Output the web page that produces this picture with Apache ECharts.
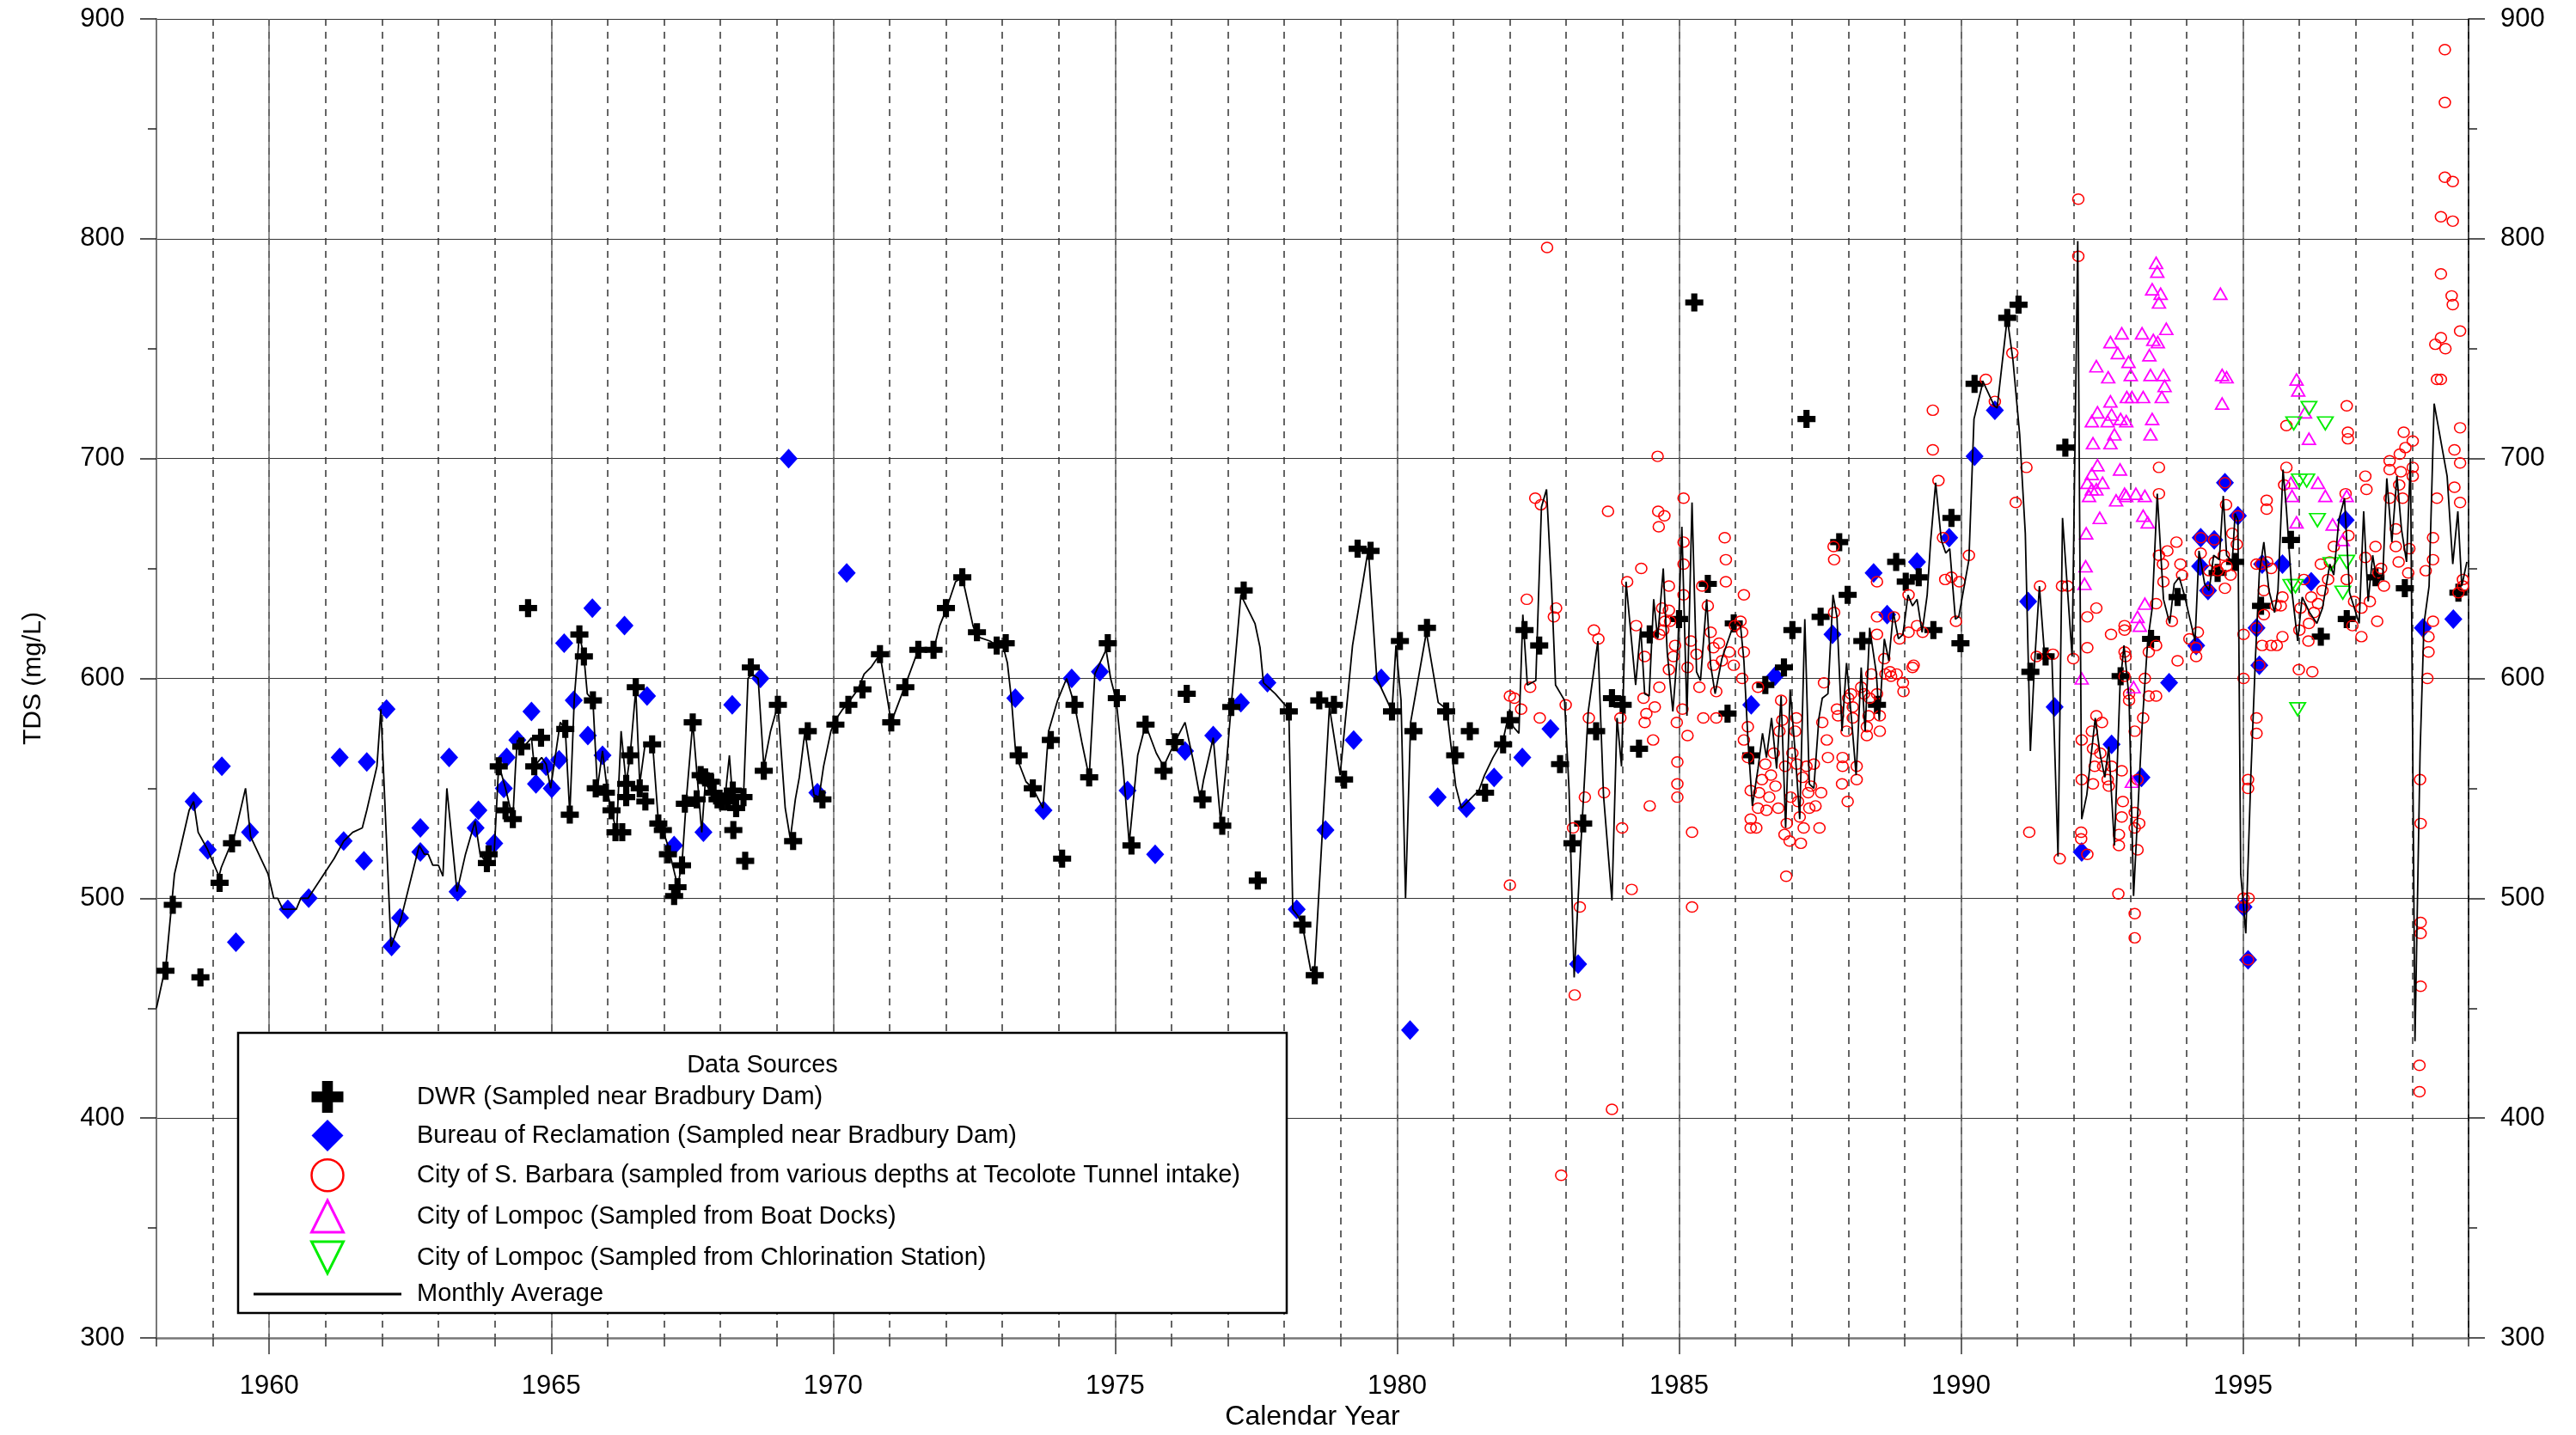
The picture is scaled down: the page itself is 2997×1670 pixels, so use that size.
<!DOCTYPE html>
<html><head><meta charset="utf-8">
<script src="https://cdn.jsdelivr.net/npm/echarts@6/dist/echarts.min.js"></script>
<style>html,body{margin:0;padding:0;background:#fff}#c{width:2997px;height:1670px}</style>
</head><body><div id="c"></div>
<script>
// ---------------- DATA ----------------
const xTickLabels = [1960, 1965, 1970, 1975, 1980, 1985, 1990, 1995];

const seriesNames = [
  'DWR (Sampled near Bradbury Dam)',
  'Bureau of Reclamation (Sampled near Bradbury Dam)',
  'City of S. Barbara (sampled from various depths at Tecolote Tunnel intake)',
  'City of Lompoc (Sampled from Boat Docks)',
  'City of Lompoc (Sampled from Chlorination Station)',
  'Monthly Average'
];

const dwr = [
[1958.16,467],[1958.29,497],[1958.78,464],[1959.12,507],[1959.34,525],
[1963.86,516],[1963.89,520],[1964.07,560],[1964.19,540],[1964.32,536],
[1964.47,569],[1964.59,632],[1964.70,560],[1964.82,573],[1965.25,577],[1965.33,538],[1965.50,620],[1965.58,610],[1965.74,590],[1965.79,550],[1965.97,548],[1966.07,540],[1966.14,530],[1966.26,530],[1966.33,546],[1966.33,552],[1966.40,565],[1966.50,596],[1966.57,550],[1966.67,544],[1966.79,570],[1966.90,534],[1966.98,531],[1967.07,520],[1967.18,501],[1967.24,505],[1967.32,515],[1967.37,543],[1967.51,580],[1967.58,545],[1967.65,556],[1967.73,555],[1967.83,553],[1967.88,548],[1967.95,545],[1968.03,544],[1968.13,544],[1968.22,549],[1968.28,541],[1968.23,531],[1968.41,546],[1968.44,517],[1968.54,605],[1968.77,558],[1969.02,588],[1969.29,526],[1969.55,576],[1969.81,545],[1970.04,579],[1970.27,588],[1970.52,595],
[1970.83,611],[1971.03,580],[1971.28,596],[1971.51,613],[1971.78,613],[1972.00,632],[1972.29,646],[1972.55,621],[1972.90,615],[1973.06,616],[1973.29,565],[1973.54,550],[1973.86,572],[1974.06,518],[1974.28,588],[1974.54,555],[1974.87,616],[1975.03,591],[1975.29,524],[1975.54,579],[1975.86,558],[1976.06,571],[1976.27,593],[1976.55,545],
[1976.90,533],[1977.06,587],[1977.28,640],[1977.53,508],[1978.08,585],[1978.32,488],[1978.54,465],[1978.62,590],[1978.88,588],[1979.06,554],[1979.30,659],[1979.53,658],[1979.91,585],[1980.05,617],[1980.29,576],[1980.53,623],[1980.87,585],[1981.03,565],[1981.29,576],[1981.56,548],[1981.88,570],[1982.0,581],
[1982.26,622],[1982.52,615],[1982.89,561],[1983.11,525],[1983.30,534],[1983.53,576],[1983.81,591],[1984.0,588],[1984.29,568],[1984.48,620],[1985.0,627],[1985.27,771],[1985.51,643],[1985.86,584],[1985.97,625],[1986.28,565],
[1986.53,597],[1986.86,605],[1987.01,622],[1987.26,718],[1987.51,628],[1987.84,662],[1987.99,638],[1988.25,617],[1988.51,588],[1988.85,653],[1989.02,644],[1989.25,646],[1989.51,622],[1989.83,673],[1989.99,616],[1990.24,734],
[1990.82,764],[1991.02,770],[1991.23,603],[1991.50,610],[1991.85,705],[1992.83,601],[1993.37,618],[1993.84,637],[1994.55,648],
[1994.86,653],[1995.32,633],[1995.85,663],[1996.38,619],[1996.84,627],[1997.35,646],[1997.87,641],[1998.82,639]
];

const bureau = [
[1958.66,544],[1958.91,522],[1959.16,560],[1959.41,480],[1959.66,530],[1960.33,495],[1960.70,500],[1961.25,564],[1961.32,526],[1961.73,562],[1961.68,517],[1962.08,586],[1962.17,478],[1962.32,491],[1962.68,532],[1962.68,521],[1963.19,564],[1963.34,503],[1963.71,540],[1963.66,532],[1963.99,525],[1964.21,564],[1964.16,550],[1964.40,572],
[1964.65,585],[1964.73,552],[1964.91,560],[1965.01,550],[1965.14,563],[1965.23,616],[1965.40,590],[1965.65,574],[1965.73,632],[1965.91,565],[1966.30,624],[1966.70,592],[1967.18,524],[1967.70,530],[1968.21,588],[1968.71,600],[1969.21,700],[1969.72,548],[1970.24,648],
[1973.23,591],[1973.73,540],[1974.23,600],[1974.73,603],[1975.22,549],[1975.71,520],[1976.24,567],
[1976.74,574],[1977.23,589],[1977.70,598],[1978.22,495],[1978.73,531],[1979.23,572],[1979.72,600],[1980.23,440],[1980.72,546],[1981.23,541],[1981.72,555],
[1982.22,564],[1982.72,577],[1983.21,470],[1986.28,588],
[1986.70,601],[1987.72,620],[1988.45,648],[1988.69,629],[1989.22,653],[1989.79,664],[1990.24,701],[1990.6,722],
[1991.19,635],[1991.66,587],[1992.14,521],[1992.67,570],[1993.2,555],[1993.69,598],[1994.17,615],[1994.25,664],[1994.24,651],[1994.49,663],[1994.68,689],[1994.38,640],
[1994.91,674],[1995.01,496],[1995.09,472],[1995.24,623],[1995.29,606],[1995.34,652],[1995.70,652],[1996.21,644],[1996.82,672],[1998.19,623],[1998.73,627]
];

const sbarbara = [
[1982.0,592],[1982.0,506],
[1982.08,591],[1982.66,796],[1982.45,682],[1982.55,679],[1982.30,636],[1982.82,632],[1982.78,628],[1982.36,596],[1982.20,586],[1982.53,582],[1982.99,588],[1983.12,532],[1983.24,496],[1983.15,456],[1982.91,374],[1983.33,546],[1983.40,582],[1983.49,622],[1983.57,618],[1983.67,548],[1983.74,676],[1983.81,404],[1983.99,532],[1983.96,582],[1984.08,644],[1984.16,504],[1984.24,624],[1984.33,650],[1984.39,610],[1984.37,591],[1984.42,584],[1984.39,580],[1984.54,572],[1984.48,542],[1984.57,587],[1984.62,701],[1984.63,676],[1984.64,669],[1984.74,674],[1984.65,596],[1984.70,632],[1984.82,631],[1984.82,642],[1984.84,626],[1984.90,610],[1984.93,615],[1984.82,604],[1984.96,580],[1984.97,562],[1984.97,552],[1984.97,546],[1985.08,682],[1985.08,662],[1985.08,652],[1985.08,638],[1985.06,586],[1985.15,574],[1985.23,530],[1985.23,496],[1985.15,605],[1985.21,617],[1985.31,611],[1985.41,642],[1985.51,633],[1985.56,621],[1985.61,614],[1985.61,606],[1985.71,616],[1985.76,608],[1985.66,594],[1985.36,596],[1985.43,582],[1985.66,582],[1985.81,664],[1985.83,654],[1985.83,644],[1985.89,612],[1985.97,606],[1985.99,624],[1986.09,626],[1986.15,638],[1986.12,621],[1986.15,612],[1986.12,600],[1986.15,572],[1986.22,578],[1986.22,564],[1986.27,549],[1986.27,536],[1986.27,532],[1984.72,622],[1984.75,626],[1984.65,620],
[1986.40,596],[1986.37,532],[1986.40,541],[1986.42,548],[1986.47,554],[1986.53,561],[1986.55,540],[1986.60,546],[1986.63,556],[1986.68,566],[1986.71,551],[1986.76,541],[1986.78,576],[1986.81,590],[1986.83,581],[1986.88,560],[1986.91,534],[1986.90,510],[1986.87,529],[1986.96,526],[1986.98,546],[1987.01,566],[1987.06,576],[1987.08,582],[1987.09,561],[1987.11,544],[1987.14,537],[1987.16,525],[1987.19,555],[1987.21,532],[1987.26,560],[1987.29,548],[1987.31,541],[1987.34,551],[1987.39,561],[1987.42,542],[1987.49,532],[1987.52,548],[1987.54,580],[1987.57,598],[1987.62,572],[1987.64,564],[1987.75,630],[1987.74,660],[1987.75,654],[1987.80,586],[1987.82,583],[1987.90,564],[1987.90,560],[1987.89,552],[1987.99,544],[1987.97,576],[1988.0,591],[1988.05,593],[1988.08,587],[1988.08,582],[1988.15,560],[1988.15,554],[1988.23,596],[1988.28,593],[1988.33,578],[1988.33,574],[1988.36,583],[1988.38,591],[1988.41,602],[1988.51,644],[1988.51,593],[1988.56,583],[1988.56,576],[1988.51,628],[1988.51,620],[1988.64,609],[1988.66,602],[1988.74,603],[1988.76,601],[1988.81,628],[1988.86,602],[1988.91,618],[1988.97,598],[1988.98,594],[1989.07,638],[1989.07,621],[1989.14,605],[1989.16,606],[1989.22,624],[1989.32,621],[1989.50,722],[1989.50,704],[1989.60,690],[1989.68,664],[1989.72,645],[1989.83,646],[1989.91,626],[1989.97,644],[1990.14,656],[1990.44,736],[1990.60,726],
[1992.08,818],[1992.08,792],[1990.91,748],[1991.16,696],[1990.97,680],[1991.40,642],[1991.79,642],[1991.89,642],[1991.34,610],[1991.63,611],[1991.99,609],[1991.21,530],[1991.75,518],[1992.14,572],[1992.14,554],[1992.13,530],[1992.13,527],[1992.24,520],[1992.24,628],[1992.24,614],[1992.40,632],[1992.40,583],[1992.32,576],[1992.34,568],[1992.37,560],[1992.34,552],[1992.50,580],[1992.47,566],[1992.52,560],[1992.60,554],[1992.67,560],[1992.62,551],[1992.66,620],[1992.85,558],[1992.87,544],[1992.85,537],[1992.80,529],[1992.80,524],[1992.79,502],[1992.90,624],[1992.90,622],[1992.90,612],[1992.92,610],[1992.98,593],[1992.98,590],[1992.90,601],[1993.08,576],[1993.13,554],[1993.08,539],[1993.08,532],[1993.16,534],[1993.13,522],[1993.08,493],[1993.08,482],[1993.23,582],[1993.26,600],[1993.33,592],[1993.46,592],[1993.33,612],[1993.46,615],[1993.46,634],[1993.51,656],[1993.51,684],[1993.51,696],[1993.58,652],[1993.59,644],[1993.66,658],[1993.74,626],[1993.82,662],[1993.89,652],[1993.92,647],[1993.84,608],[1994.05,618],[1994.17,610],[1994.20,621],[1994.25,657],[1994.40,649],[1994.50,653],[1994.55,649],[1994.66,656],[1994.71,651],[1994.78,647],[1994.81,666],[1994.70,679],[1994.68,641],[1994.25,664],[1994.49,663],[1994.68,689],[1994.38,640],[1994.17,614],
[1998.58,886],[1998.58,862],[1998.58,828],[1998.72,826],[1998.51,810],[1998.72,808],[1998.51,784],[1998.70,774],[1998.72,770],[1998.85,758],[1998.51,755],[1998.59,750],[1998.41,752],[1998.44,736],[1998.51,736],[1998.85,714],[1998.75,704],[1998.85,698],[1998.75,687],[1998.85,680],[1998.44,682],[1998.37,664],[1998.37,654],[1998.24,649],[1998.37,626],[1998.29,619],[1998.29,612],[1998.27,600],[1998.14,554],[1998.15,534],[1998.15,489],[1998.15,484],[1998.15,460],[1998.13,424],[1998.13,412],[1998.01,708],[1998.01,696],[1998.01,692],[1997.88,705],[1997.85,712],[1997.78,702],[1997.80,694],[1997.77,688],[1997.95,659],[1997.93,648],[1997.60,699],[1997.60,695],[1997.71,668],[1997.71,660],[1997.60,682],[1997.83,682],[1997.76,653],[1997.50,642],[1997.45,650],[1997.35,660],[1997.40,648],[1997.17,692],[1997.19,686],[1997.17,655],[1997.25,635],[1997.38,626],[1997.10,632],[1997.10,619],[1996.84,724],[1996.86,712],[1996.86,709],[1996.82,684],[1996.87,665],[1996.84,645],[1996.97,635],[1996.94,624],[1996.61,660],[1996.54,653],[1996.51,645],[1996.38,652],[1996.41,640],[1996.33,634],[1996.26,630],[1996.17,625],[1996.16,617],[1996.21,637],[1996.08,645],[1996.02,632],[1996.00,622],[1995.99,604],[1996.23,603],[1995.77,715],[1995.77,696],[1995.73,688],[1995.70,637],[1995.67,633],[1995.58,633],[1995.70,619],[1995.60,615],[1995.50,615],[1995.34,615],[1995.37,640],[1995.43,653],[1995.50,650],[1995.42,681],[1995.42,677],[1995.24,652],[1995.32,652],[1995.37,629],[1995.01,620],[1995.01,600],[1995.24,582],[1995.24,575],[1995.09,554],[1995.09,550],[1995.01,500],[1995.10,500],[1994.89,661],[1994.91,674],[1995.09,472],[1995.01,496],[1995.24,623],[1995.29,606],[1998.82,639],[1998.90,642],[1998.90,645]
];

const lompocDocks = [
[1993.46,789],[1993.48,785],[1993.39,777],[1993.54,775],[1993.51,771],[1993.64,759],[1993.21,757],[1992.85,757],[1992.65,753],[1992.78,748],[1993.41,754],[1993.49,753],[1993.34,747],[1992.97,744],[1992.40,742],[1992.61,737],[1993.01,738],[1993.36,738],[1993.59,738],[1993.61,733],[1992.65,726],[1992.94,728],[1993.03,728],[1993.23,728],[1993.56,728],[1992.42,721],[1992.32,717],[1992.60,717],[1992.67,720],[1992.83,718],[1992.93,717],[1993.39,718],[1992.72,711],[1993.36,711],[1992.34,707],[1992.65,707],[1992.32,693],[1992.42,697],[1992.51,689],[1992.24,689],[1992.32,686],[1992.27,683],[1992.40,686],[1992.82,695],[1992.75,681],[1992.90,684],[1992.93,683],[1993.10,684],[1993.26,683],[1993.23,674],[1993.31,671],[1992.46,673],[1992.22,666],[1992.21,651],[1992.19,643],[1992.14,600],[1993.26,634],[1993.13,628],[1993.17,624],[1993.06,596],[1993.03,553],[1994.60,775],[1994.63,738],[1994.71,737],[1994.63,725],
[1995.95,736],[1995.98,731],[1996.17,709],[1995.85,689],[1995.87,683],[1996.33,689],[1996.46,683],[1995.95,671],[1996.59,670],[1996.84,683],[1996.77,663],[1996.10,721]
];

const lompocChlor = [
[1995.90,716],[1996.17,723],[1996.46,716],[1996.00,690],[1996.13,690],[1996.32,672],[1995.85,642],[1995.93,642],[1996.56,652],[1996.84,653],[1996.77,639],[1995.97,586]
];

const monthlyAvg = [
[1958.0,450],[1958.17,470],[1958.32,511],[1958.58,540],[1958.66,544],[1958.74,530],[1958.91,522],[1959.11,510],[1959.15,514],[1959.39,529],[1959.58,550],[1959.67,528],[1959.98,511],[1960.08,500],[1960.15,500],[1960.24,495],[1960.48,495],[1960.56,500],[1960.69,500],[1961.15,518],[1961.32,526],[1961.48,530],[1961.65,532],[1961.73,540],[1961.91,560],[1961.98,586],[1962.16,478],[1962.34,491],[1962.66,524],[1962.75,520],[1962.82,520],[1962.90,515],[1963.0,515],[1963.08,510],[1963.15,550],[1963.33,503],[1963.48,520],[1963.65,535],[1963.74,520],[1963.86,516],[1963.99,521],[1964.07,561],[1964.19,550],[1964.32,536],[1964.37,561],
[1964.40,572],[1964.52,569],[1964.65,573],[1964.70,560],[1964.83,564],[1964.91,561],[1964.99,550],[1965.16,580],[1965.25,577],[1965.33,538],[1965.41,591],[1965.50,620],[1965.58,610],[1965.64,593],[1965.74,590],[1965.82,550],[1965.91,567],[1966.0,548],[1966.07,540],[1966.16,530],[1966.24,576],[1966.33,552],[1966.40,565],[1966.50,595],[1966.57,552],[1966.66,569],[1966.80,570],[1966.90,535],[1966.98,531],[1967.07,524],[1967.22,508],[1967.24,505],[1967.32,516],[1967.40,546],[1967.51,580],[1967.67,530],[1967.73,552],[1967.83,549],[1967.95,546],[1968.08,545],[1968.16,565],[1968.23,541],[1968.28,546],[1968.41,546],[1968.49,600],[1968.56,602],[1968.67,600],[1968.77,560],[1968.89,576],[1969.02,588],[1969.15,541],[1969.24,527],[1969.33,545],[1969.40,555],[1969.50,576],[1969.66,547],[1969.75,546],[1969.83,560],[1969.96,576],[1970.04,581],[1970.17,586],[1970.27,589],[1970.44,595],
[1970.55,602],[1970.67,605],[1970.83,611],[1971.03,580],[1971.28,597],[1971.51,613],[1971.78,613],[1971.89,624],[1972.0,631],[1972.17,644],[1972.29,646],[1972.48,624],[1972.55,619],[1972.78,617],[1972.90,615],[1973.01,615],[1973.09,607],[1973.16,591],[1973.24,565],[1973.42,553],[1973.54,550],[1973.72,541],[1973.82,576],[1973.98,590],[1974.14,600],[1974.28,588],[1974.41,571],[1974.54,555],[1974.64,602],[1974.84,613],[1974.92,600],[1975.02,590],[1975.14,560],[1975.25,525],[1975.40,565],[1975.54,579],[1975.73,566],[1975.86,560],[1976.06,571],[1976.24,580],[1976.39,562],[1976.51,545],
[1976.57,554],[1976.74,573],[1976.87,535],[1976.97,560],[1977.06,588],[1977.23,638],[1977.48,625],[1977.57,614],[1977.63,598],[1977.84,593],[1978.08,586],[1978.15,495],[1978.24,492],[1978.32,488],[1978.47,467],[1978.54,469],[1978.80,587],[1978.99,556],[1979.21,615],[1979.49,659],[1979.64,600],[1979.91,585],[1979.98,615],[1980.07,590],[1980.15,500],[1980.24,580],[1980.52,621],[1980.73,589],[1980.88,586],[1981.04,551],[1981.14,541],[1981.45,549],[1981.55,556],[1981.70,564],[1981.88,572],[1982.0,586],
[1982.06,578],[1982.16,575],[1982.23,629],[1982.31,597],[1982.46,599],[1982.56,678],[1982.65,686],[1982.74,641],[1982.81,597],[1982.97,590],[1983.05,549],[1983.14,464],[1983.25,520],[1983.39,585],[1983.56,617],[1983.66,547],[1983.81,499],[1983.90,582],[1983.98,560],[1984.06,644],[1984.23,597],[1984.32,623],[1984.39,593],[1984.47,592],[1984.55,636],[1984.62,618],[1984.72,650],[1984.79,612],[1984.89,585],[1984.98,615],[1985.05,669],[1985.14,583],[1985.23,680],[1985.31,603],[1985.38,599],[1985.49,636],[1985.56,606],[1985.64,593],[1985.76,609],[1985.92,621],[1986.02,625],[1986.09,624],[1986.15,608],[1986.22,573],[1986.30,542],
[1986.40,559],[1986.48,575],[1986.55,564],[1986.64,582],[1986.73,559],[1986.81,592],[1986.89,532],[1986.97,595],[1987.06,566],[1987.14,536],[1987.23,627],[1987.31,552],[1987.39,550],[1987.48,582],[1987.54,591],[1987.64,593],[1987.73,638],[1987.80,628],[1987.89,576],[1987.97,607],[1988.06,581],[1988.14,556],[1988.23,605],[1988.30,576],[1988.38,623],[1988.50,602],[1988.55,581],[1988.64,618],[1988.72,608],[1988.80,630],[1988.89,618],[1988.97,620],[1989.06,638],[1989.14,633],[1989.22,636],[1989.31,621],[1989.40,638],[1989.46,662],[1989.55,689],[1989.65,663],[1989.73,657],[1989.80,659],[1989.90,627],[1989.96,628],[1990.14,654],[1990.23,718],[1990.39,735],[1990.59,724],
[1990.64,723],[1990.82,764],[1990.92,745],[1991.04,711],[1991.14,666],[1991.23,567],[1991.30,605],[1991.39,642],[1991.48,611],[1991.61,611],[1991.72,519],[1991.80,673],[1991.97,610],[1992.07,799],[1992.14,536],[1992.23,547],[1992.38,582],[1992.47,565],[1992.55,555],[1992.62,569],[1992.72,524],[1992.82,597],[1992.89,615],[1992.98,591],[1993.06,501],[1993.21,578],[1993.31,617],[1993.39,632],[1993.48,684],[1993.59,636],[1993.70,625],[1993.78,643],[1993.87,646],[1993.97,637],[1994.05,628],[1994.15,617],[1994.22,658],[1994.32,643],[1994.40,640],[1994.48,656],[1994.58,654],[1994.65,683],[1994.71,656],[1994.81,653],
[1994.86,675],[1994.91,672],[1994.96,511],[1995.05,484],[1995.14,556],[1995.22,609],[1995.29,648],[1995.37,662],[1995.46,640],[1995.56,630],[1995.62,640],[1995.71,695],[1995.77,677],[1995.87,639],[1995.97,617],[1996.05,637],[1996.18,630],[1996.31,625],[1996.41,632],[1996.54,652],[1996.61,647],[1996.70,672],[1996.80,682],[1996.89,639],[1997.06,625],[1997.14,676],[1997.22,635],[1997.30,656],[1997.38,643],[1997.48,647],[1997.55,691],[1997.64,662],[1997.73,692],[1997.81,668],[1997.90,653],[1997.97,700],[1998.05,435],[1998.14,566],[1998.21,625],[1998.30,642],[1998.39,725],[1998.62,692],[1998.72,652],[1998.81,676],[1998.88,642],[1998.97,653]
];

// ---------------- CHART ----------------
const FONT = '"Liberation Sans", Arial, Helvetica, sans-serif';
const PLUS = 'path://M3.3,0H6.7V3.3H10V6.7H6.7V10H3.3V6.7H0V3.3H3.3Z';
const DIAMOND = 'path://M5,0L10,5L5,10L0,5Z';
const UP_TRI = 'path://M5,0L10,10L0,10Z';
const DOWN_TRI = 'path://M0,0L10,0L5,10Z';
const LINE_BAR = 'path://M0,0H172V3H0Z';

const chart = echarts.init(document.getElementById('c'), null, {renderer: 'canvas'});

const yAxisCommon = {
  type: 'value', min: 300, max: 900, interval: 100,
  axisTick: {show: true, inside: false, length: 19, lineStyle: {color: '#222', width: 1.5}},
  minorTick: {show: true, splitNumber: 2, length: 10, lineStyle: {color: '#222', width: 1.5}},
  axisLabel: {fontSize: 31, color: '#000', fontFamily: FONT, margin: 37},
  minorSplitLine: {show: false}
};

const option = {
  animation: false,
  backgroundColor: '#ffffff',
  textStyle: {fontFamily: FONT},
  grid: {left: 182, top: 22, width: 2690, height: 1536, containLabel: false},
  xAxis: [
    {
      type: 'value', min: 1958, max: 1999, interval: 1,
      axisLine: {show: true, onZero: false, lineStyle: {color: '#777', width: 2.5}},
      axisTick: {show: true, length: 10, lineStyle: {color: '#333', width: 1.5}},
      axisLabel: {show: false},
      splitLine: {show: true, lineStyle: {color: '#333', width: 1.5, type: [8, 7]}},
      name: 'Calendar Year', nameLocation: 'middle', nameGap: 76,
      nameTextStyle: {fontSize: 32, color: '#000', fontFamily: FONT}
    },
    {
      type: 'value', min: 1958, max: 1999, interval: 1, position: 'bottom',
      axisLine: {show: false, onZero: false},
      axisTick: {show: true, length: 19, customValues: xTickLabels, lineStyle: {color: '#333', width: 1.5}},
      axisLabel: {show: true, customValues: xTickLabels, fontSize: 31, color: '#000', fontFamily: FONT, margin: 41,
                  formatter: v => String(Math.round(v))},
      splitLine: {show: false}
    }
  ],
  yAxis: [
    Object.assign({}, yAxisCommon, {
      position: 'left',
      axisLine: {show: true, onZero: false, lineStyle: {color: '#777', width: 2}},
      splitLine: {show: true, lineStyle: {color: '#333', width: 1.2, type: 'solid'}},
      name: 'TDS (mg/L)', nameLocation: 'middle', nameGap: 128, nameRotate: 90,
      nameTextStyle: {fontSize: 30, color: '#000', fontFamily: FONT}
    }),
    Object.assign({}, yAxisCommon, {
      position: 'right',
      axisLine: {show: true, onZero: false, lineStyle: {color: '#000', width: 1.5}},
      splitLine: {show: false}
    })
  ],
  legend: {
    show: true, orient: 'vertical', left: 295, top: 1258, padding: 0,
    itemWidth: 172, itemHeight: 37, itemGap: 8, selectedMode: false,
    symbolKeepAspect: true, z: 20,
    textStyle: {fontSize: 29, color: '#000', fontFamily: FONT, padding: [0, 0, 0, 13]},
    data: [
      {name: seriesNames[0], icon: PLUS, itemStyle: {color: '#000', borderWidth: 0}},
      {name: seriesNames[1], icon: DIAMOND, itemStyle: {color: '#0000ff', borderWidth: 0}},
      {name: seriesNames[2], icon: 'circle', itemStyle: {color: 'rgba(0,0,0,0)', borderColor: '#ff0000', borderWidth: 2.5}},
      {name: seriesNames[3], icon: UP_TRI, itemStyle: {color: 'rgba(0,0,0,0)', borderColor: '#ff00ff', borderWidth: 3}},
      {name: seriesNames[4], icon: DOWN_TRI, itemStyle: {color: 'rgba(0,0,0,0)', borderColor: '#00ee00', borderWidth: 3}},
      {name: seriesNames[5], icon: LINE_BAR, itemStyle: {color: '#000', borderWidth: 0}}
    ]
  },
  graphic: [
    {type: 'rect', z: 10, shape: {x: 277, y: 1202, width: 1220, height: 326},
     style: {fill: '#ffffff', stroke: '#000', lineWidth: 2.5}},
    {type: 'text', z: 21, x: 887, y: 1240,
     style: {text: 'Data Sources', fontSize: 29, fontFamily: FONT, fill: '#000', textAlign: 'center', textVerticalAlign: 'middle'}}
  ],
  series: [
    {
      name: seriesNames[1], type: 'scatter', data: bureau, z: 2,
      symbol: 'diamond', symbolSize: [21, 23],
      itemStyle: {color: '#0000ff', opacity: 1},
      markLine: {
        silent: true, z: 1, symbol: ['none', 'none'], label: {show: false},
        lineStyle: {color: '#6a6a6a', width: 1.5, type: 'solid'},
        data: xTickLabels.map(v => ({xAxis: v}))
      }
    },
    {
      name: seriesNames[0], type: 'scatter', data: dwr, z: 3,
      symbol: PLUS, symbolSize: 21,
      itemStyle: {color: '#000', opacity: 1}
    },
    {
      name: seriesNames[2], type: 'scatter', data: sbarbara, z: 4,
      symbol: 'circle', symbolSize: [13, 12],
      itemStyle: {color: 'rgba(0,0,0,0)', borderColor: '#ff0000', borderWidth: 1.5, opacity: 1}
    },
    {
      name: seriesNames[3], type: 'scatter', data: lompocDocks, z: 4,
      symbol: 'triangle', symbolSize: [15, 13],
      itemStyle: {color: 'rgba(0,0,0,0)', borderColor: '#ff00ff', borderWidth: 1.8, opacity: 1}
    },
    {
      name: seriesNames[4], type: 'scatter', data: lompocChlor, z: 4,
      symbol: DOWN_TRI, symbolSize: [18, 15],
      itemStyle: {color: 'rgba(0,0,0,0)', borderColor: '#00ee00', borderWidth: 1.8, opacity: 1}
    },
    {
      name: seriesNames[5], type: 'line', data: monthlyAvg, z: 5,
      showSymbol: false, symbol: 'none',
      lineStyle: {color: '#000', width: 1.8},
      itemStyle: {color: '#000'}
    }
  ]
};
chart.setOption(option);
</script>
</body></html>
